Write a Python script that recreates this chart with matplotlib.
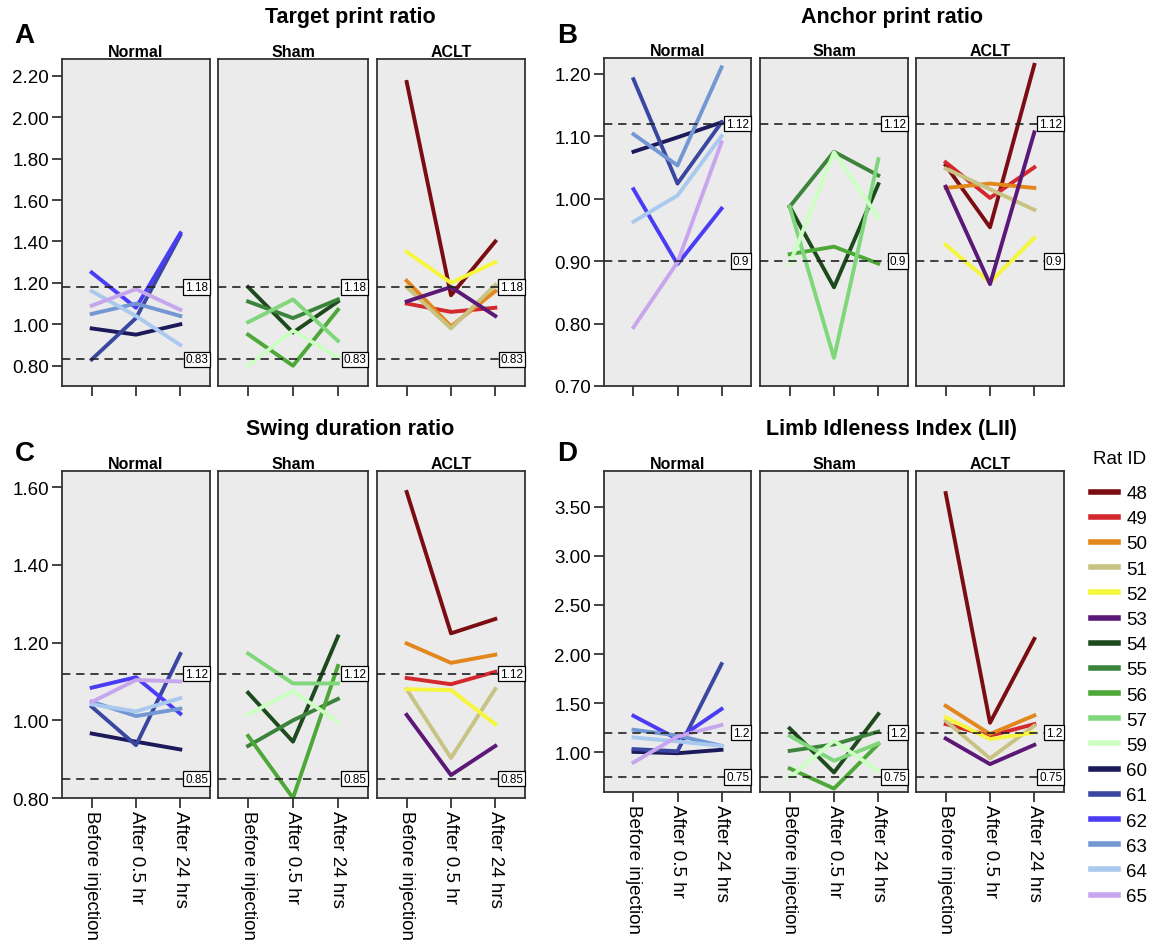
import numpy as np
import matplotlib
matplotlib.use("Agg")
import matplotlib.pyplot as plt
from matplotlib.lines import Line2D
import matplotlib.transforms as mtransforms

plt.rcParams['font.family'] = ['Liberation Sans', 'DejaVu Sans']

W, H = 1153, 945

times = ['Before injection', 'After 0.5 hr', 'After 24 hrs']
groups = ['Normal', 'Sham', 'ACLT']
rat_ids = ['48', '49', '50', '51', '52', '53', '54', '55', '56', '57', '59',
           '60', '61', '62', '63', '64', '65']
rat_colors = ['#7a0c12', '#d2282e', '#e3861c', '#c9c383', '#f6f63c', '#5b1876',
              '#1d4a1d', '#3c843c', '#4da838', '#80d67a', '#ccffc2',
              '#1c1a5a', '#3a47a0', '#4a3cf5', '#7397d2', '#a9c9ef', '#c8a6ee']
group_rats = {
    'Normal': ['60', '61', '62', '63', '64', '65'],
    'Sham': ['54', '55', '56', '57', '59'],
    'ACLT': ['48', '49', '50', '51', '52', '53'],
}

# values per rat: before injection, after 0.5 hr, after 24 hrs
target_ratio = {
    '48': [2.17, 1.14, 1.40], '49': [1.10, 1.06, 1.08], '50': [1.21, 0.99, 1.16],
    '51': [1.18, 0.98, 1.19], '52': [1.35, 1.20, 1.30], '53': [1.11, 1.18, 1.04],
    '54': [1.18, 0.96, 1.11], '55': [1.11, 1.03, 1.12], '56': [0.95, 0.80, 1.07],
    '57': [1.01, 1.12, 0.92], '59': [0.80, 0.97, 0.84],
    '60': [0.98, 0.95, 1.00], '61': [0.83, 1.03, 1.43], '62': [1.25, 1.08, 1.44],
    '63': [1.05, 1.10, 1.04], '64': [1.16, 1.04, 0.90], '65': [1.09, 1.17, 1.07],
}
anchor_ratio = {
    '48': [1.053, 0.954, 1.214], '49': [1.058, 1.001, 1.050], '50': [1.017, 1.024, 1.017],
    '51': [1.048, 1.015, 0.982], '52': [0.926, 0.866, 0.937], '53': [1.019, 0.863, 1.106],
    '54': [0.987, 0.858, 1.023], '55': [0.987, 1.075, 1.037], '56': [0.911, 0.923, 0.896],
    '57': [0.987, 0.745, 1.063], '59': [0.895, 1.074, 0.970],
    '60': [1.075, 1.098, 1.122], '61': [1.191, 1.024, 1.122], '62': [1.015, 0.895, 0.984],
    '63': [1.103, 1.053, 1.210], '64': [0.963, 1.005, 1.100], '65': [0.794, 0.898, 1.090],
}
swing_ratio = {
    '48': [1.588, 1.224, 1.261], '49': [1.109, 1.093, 1.125], '50': [1.198, 1.148, 1.169],
    '51': [1.080, 0.903, 1.081], '52': [1.080, 1.078, 0.990], '53': [1.014, 0.859, 0.934],
    '54': [1.071, 0.945, 1.216], '55': [0.934, 1.000, 1.055], '56': [0.960, 0.800, 1.140],
    '57': [1.172, 1.095, 1.095], '59': [1.015, 1.075, 0.996],
    '60': [0.966, 0.945, 0.925], '61': [1.035, 0.936, 1.171], '62': [1.084, 1.111, 1.017],
    '63': [1.048, 1.011, 1.030], '64': [1.041, 1.023, 1.057], '65': [1.047, 1.104, 1.100],
}
lii = {
    '48': [3.64, 1.30, 2.155], '49': [1.287, 1.167, 1.287], '50': [1.473, 1.185, 1.375],
    '51': [1.32, 0.937, 1.27], '52': [1.355, 1.134, 1.20], '53': [1.14, 0.879, 1.075],
    '54': [1.243, 0.794, 1.389], '55': [1.014, 1.08, 1.21], '56': [0.835, 0.63, 1.083],
    '57': [1.167, 0.913, 1.09], '59': [0.743, 1.117, 0.81],
    '60': [1.004, 0.99, 1.025], '61': [1.032, 1.01, 1.898], '62': [1.371, 1.134, 1.44],
    '63': [1.229, 1.17, 1.065], '64': [1.151, 1.11, 1.065], '65': [0.896, 1.16, 1.277],
}

target_ticks = [0.80, 1.00, 1.20, 1.40, 1.60, 1.80, 2.00, 2.20]
anchor_ticks = [0.70, 0.80, 0.90, 1.00, 1.10, 1.20]
swing_ticks = [0.80, 1.00, 1.20, 1.40, 1.60]
lii_ticks = [1.00, 1.50, 2.00, 2.50, 3.00, 3.50]

color_of = dict(zip(rat_ids, rat_colors))

left_cols = [(62, 210), (218, 368), (377, 525)]
right_cols = [(604, 751), (760, 908), (916, 1064)]

panels = [
    dict(data=target_ratio, title='Target print ratio', letter='A', cols=left_cols,
         top=60, bot=387, ylim=(0.702, 2.281), yticks=target_ticks,
         refs=[(1.18, '1.18'), (0.83, '0.83')], xlabels=False,
         title_xy=(350, 17), letter_xy=(24, 36)),
    dict(data=anchor_ratio, title='Anchor print ratio', letter='B', cols=right_cols,
         top=59, bot=387, ylim=(0.70, 1.225), yticks=anchor_ticks,
         refs=[(1.12, '1.12'), (0.9, '0.9')], xlabels=False,
         title_xy=(892, 17), letter_xy=(567, 36)),
    dict(data=swing_ratio, title='Swing duration ratio', letter='C', cols=left_cols,
         top=472, bot=799, ylim=(0.80, 1.642), yticks=swing_ticks,
         refs=[(1.12, '1.12'), (0.85, '0.85')], xlabels=True,
         title_xy=(350, 430), letter_xy=(25, 454)),
    dict(data=lii, title='Limb Idleness Index (LII)', letter='D', cols=right_cols,
         top=472, bot=793, ylim=(0.595, 3.865), yticks=lii_ticks,
         refs=[(1.2, '1.2'), (0.75, '0.75')], xlabels=True,
         title_xy=(892, 430), letter_xy=(567, 454)),
]

fig = plt.figure(figsize=(W / 100, H / 100), dpi=100)
fig.patch.set_facecolor('white')

for p in panels:
    for gi, g in enumerate(groups):
        x0, x1 = p['cols'][gi]
        ax = fig.add_axes([x0 / W, 1 - p['bot'] / H, (x1 - x0) / W, (p['bot'] - p['top']) / H])
        ax.set_facecolor('#ebebeb')
        for s in ax.spines.values():
            s.set_color('#333333')
            s.set_linewidth(1.3)
        for rid in group_rats[g]:
            ax.plot(range(len(times)), p['data'][rid], color=color_of[rid], lw=2.8, zorder=2)
        trans = mtransforms.blended_transform_factory(ax.transAxes, ax.transData)
        for val, lab in p['refs']:
            ax.axhline(val, color='#222222', lw=1.2, ls=(0, (5, 3.5)), zorder=3)
            ax.text(0.988, val, lab, transform=trans, ha='right', va='center', fontsize=8.5,
                    zorder=4, bbox=dict(boxstyle='square,pad=0.15', fc='white', ec='black', lw=0.9))
        ax.set_xlim(-0.67, 2.67)
        ax.set_ylim(*p['ylim'])
        ax.set_xticks(range(len(times)))
        ax.tick_params(axis='x', direction='out', length=7.5, width=1.2, color='#222222', pad=1)
        if p['xlabels']:
            ax.set_xticklabels(times, rotation=270, fontsize=13.5, va='top', ha='center')
        else:
            ax.set_xticklabels([])
        if gi == 0:
            ax.set_yticks(p['yticks'])
            ax.set_yticklabels(['%.2f' % t for t in p['yticks']], fontsize=13.5)
            ax.tick_params(axis='y', direction='out', length=7.5, width=1.2, color='#222222', pad=2)
        else:
            ax.set_yticks([])
        ax.text(0.5, 1.0, g, transform=ax.transAxes, ha='center', va='bottom',
                fontsize=11.5, fontweight='bold')
    fig.text(p['title_xy'][0] / W, 1 - p['title_xy'][1] / H, p['title'], ha='center', va='center',
             fontsize=15.5, fontweight='bold')
    fig.text(p['letter_xy'][0] / W, 1 - p['letter_xy'][1] / H, p['letter'], ha='center', va='center',
             fontsize=20, fontweight='bold')

# legend
fig.text(1120 / W, 1 - 459 / H, 'Rat ID', ha='center', va='center', fontsize=13.5)
handles = [Line2D([], [], color=c, lw=4) for c in rat_colors]
fig.legend(handles, rat_ids, loc='upper left', bbox_to_anchor=(1091 / W, 1 - 486 / H),
           frameon=False, fontsize=13.5,
           handlelength=1.45, handletextpad=0.43, labelspacing=0.43, borderaxespad=0,
           borderpad=0)

fig.savefig('out.png', dpi=100)
